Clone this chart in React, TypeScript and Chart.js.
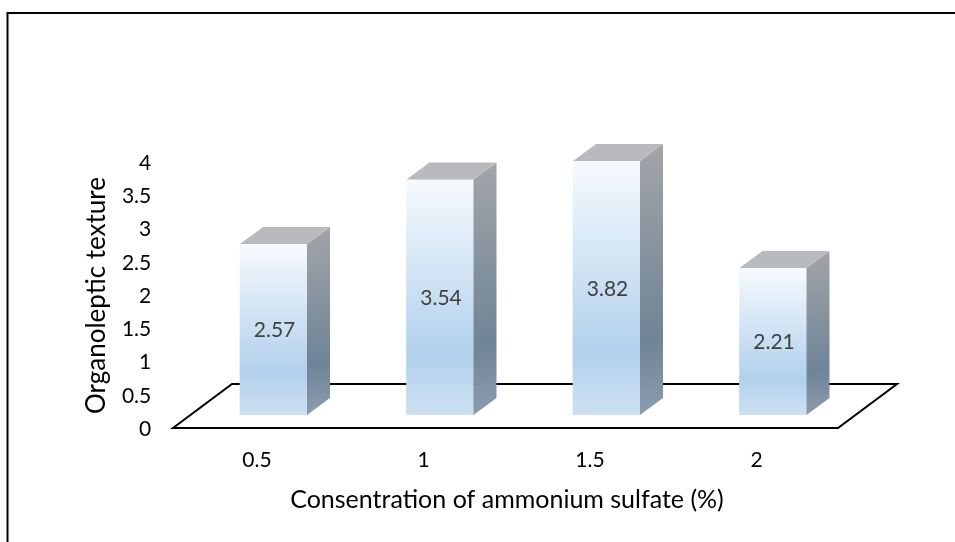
import React, { useEffect, useRef } from "react";
import { Chart, registerables } from "chart.js";

Chart.register(...registerables);

const categories = ["0.5", "1", "1.5", "2"];
const textureValues = [2.57, 3.54, 3.82, 2.21];
const yTickStep = 0.5;
const yMax = 4;
const xAxisTitle = "Consentration of ammonium sulfate (%)";
const yAxisTitle = "Organoleptic texture";

const FONT = "Lato, Carlito, 'Open Sans', sans-serif";
const DX = 23;
const DY = 17;

const threeD = {
  id: "threeD",
  beforeDraw(chart: any) {
    const { ctx } = chart;
    ctx.save();
    ctx.strokeStyle = "#000";
    ctx.lineWidth = 2;
    ctx.beginPath();
    ctx.moveTo(7.5, 542);
    ctx.lineTo(7.5, 13);
    ctx.lineTo(955, 13);
    ctx.stroke();
    ctx.restore();
  },
  beforeDatasetsDraw(chart: any) {
    const { ctx } = chart;
    const base = chart.scales.y.getPixelForValue(0);
    const x0 = chart.scales.x.getPixelForValue(0) - 100.5;
    const x1 = chart.scales.x.getPixelForValue(3) + 65;
    ctx.save();
    ctx.strokeStyle = "#000";
    ctx.lineWidth = 2;
    ctx.beginPath();
    ctx.moveTo(x0, base + 13);
    ctx.lineTo(x1, base + 13);
    ctx.lineTo(x1 + 59, base - 31);
    ctx.lineTo(x0 + 59, base - 31);
    ctx.closePath();
    ctx.stroke();
    ctx.restore();
  },
  afterDatasetsDraw(chart: any) {
    const { ctx } = chart;
    const meta = chart.getDatasetMeta(0);
    meta.data.forEach((bar: any, i: number) => {
      const l = bar.x - bar.width / 2;
      const r = bar.x + bar.width / 2;
      const t = bar.y;
      const b = bar.base;
      const g = ctx.createLinearGradient(r, t - DY, r + DX, b);
      g.addColorStop(0, "#a3a5a8");
      g.addColorStop(0.72, "#6f8497");
      g.addColorStop(1, "#8c9dae");
      ctx.fillStyle = g;
      ctx.beginPath();
      ctx.moveTo(r, t);
      ctx.lineTo(r + DX, t - DY);
      ctx.lineTo(r + DX, b - DY);
      ctx.lineTo(r, b);
      ctx.closePath();
      ctx.fill();
      ctx.fillStyle = "#b9babd";
      ctx.beginPath();
      ctx.moveTo(l, t);
      ctx.lineTo(l + DX, t - DY);
      ctx.lineTo(r + DX, t - DY);
      ctx.lineTo(r, t);
      ctx.closePath();
      ctx.fill();
      ctx.save();
      ctx.fillStyle = "#404040";
      ctx.font = `21px ${FONT}`;
      ctx.textAlign = "center";
      ctx.textBaseline = "middle";
      ctx.fillText(String(textureValues[i]), bar.x + 1, (t + b) / 2 + 1);
      ctx.restore();
    });
  },
  afterDraw(chart: any) {
    const { ctx } = chart;
    ctx.save();
    ctx.fillStyle = "#000";
    ctx.font = `25px ${FONT}`;
    ctx.textAlign = "center";
    ctx.textBaseline = "middle";
    ctx.fillText(xAxisTitle, 507, 500);
    ctx.font = `26px ${FONT}`;
    ctx.translate(97, 295.5);
    ctx.rotate(-Math.PI / 2);
    ctx.fillText(yAxisTitle, 0, 0);
    ctx.restore();
  },
};

export default function App() {
  const ref = useRef<HTMLCanvasElement>(null);
  useEffect(() => {
    document.body.style.margin = "0";
    document.body.style.background = "#fff";
    const chart = new Chart(ref.current!, {
      type: "bar",
      data: {
        labels: categories,
        datasets: [
          {
            data: textureValues,
            borderWidth: 0,
            backgroundColor: (c: any) => {
              const sc = c.chart.scales?.y;
              const top = sc && typeof c.raw === "number" ? sc.getPixelForValue(c.raw) : NaN;
              const base = sc ? sc.getPixelForValue(0) : NaN;
              if (!Number.isFinite(top) || !Number.isFinite(base)) return "#b5d2ec";
              const g = c.chart.ctx.createLinearGradient(0, top, 0, base);
              g.addColorStop(0, "#f6fafe");
              g.addColorStop(0.75, "#b2d0ec");
              g.addColorStop(1, "#cde0f1");
              return g;
            },
            barThickness: 67,
          },
        ],
      },
      options: {
        responsive: false,
        animation: false,
        layout: { padding: { left: 110, right: 98.75, top: 149, bottom: 57 } },
        plugins: { legend: { display: false }, tooltip: { enabled: false } },
        scales: {
          x: {
            afterFit: (s: any) => { s.height = 70; },
            grid: { display: false, drawTicks: false },
            border: { display: false },
            ticks: { color: "#000", font: { family: FONT, size: 21 }, padding: 33, maxRotation: 0, autoSkip: false, labelOffset: -16.5 },
          },
          y: {
            min: 0,
            max: yMax,
            afterFit: (s: any) => { s.width = 80.25; },
            grid: { display: false, drawTicks: false },
            border: { display: false },
            ticks: {
              stepSize: yTickStep,
              autoSkip: false,
              color: "#000",
              font: { family: FONT, size: 21 },
              padding: 39,
              labelOffset: 14,
              callback: (v: any) => String(v),
            } as any,
          },
        },
      },
      plugins: [threeD],
    });
    return () => chart.destroy();
  }, []);
  return <canvas ref={ref} width={955} height={542} style={{ display: "block", width: 955, height: 542 }} />;
}
